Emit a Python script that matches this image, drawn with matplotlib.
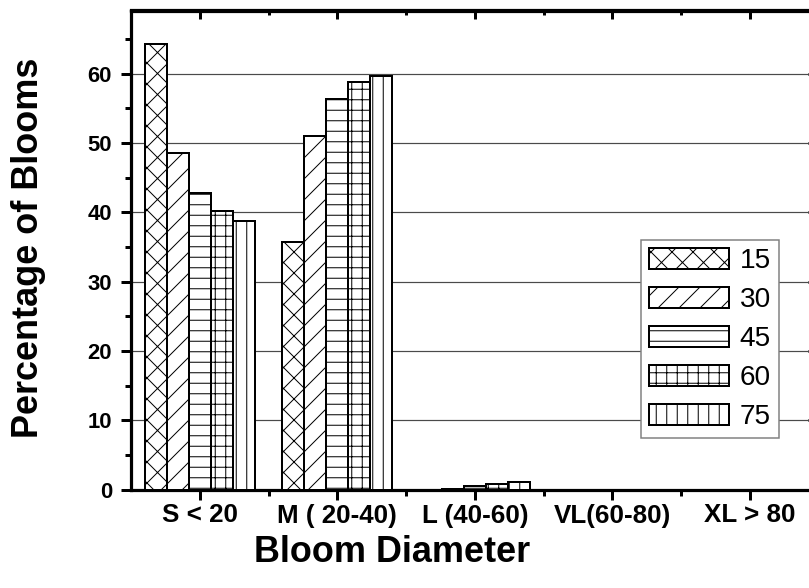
import numpy as np
import matplotlib
matplotlib.use("Agg")
import matplotlib.pyplot as plt
from matplotlib.ticker import MultipleLocator, FixedLocator

# bloom size classes and the percentage of blooms in each, per series
categories = ["S < 20", "M ( 20-40)", "L (40-60)", "VL(60-80)", "XL > 80"]
series_names = ["15", "30", "45", "60", "75"]
pct_15 = [64.2, 35.7, 0.0, 0.0, 0.0]
pct_30 = [48.6, 51.0, 0.1, 0.0, 0.0]
pct_45 = [42.8, 56.3, 0.5, 0.0, 0.0]
pct_60 = [40.2, 58.8, 0.8, 0.0, 0.0]
pct_75 = [38.8, 59.7, 1.1, 0.0, 0.0]
y_ticks = [0, 10, 20, 30, 40, 50, 60]

DPI = 126
def px(v):
    # pixel size -> points at this dpi
    return v * 72.0 / DPI

plt.rcParams['font.family'] = ['Liberation Sans', 'DejaVu Sans']
plt.rcParams['hatch.linewidth'] = px(1.0)
plt.rcParams['hatch.color'] = 'black'

fig = plt.figure(figsize=(809 / DPI, 588 / DPI), dpi=DPI)
W, H = 809.0, 588.0
ax = fig.add_axes([131 / W, 1 - 489.5 / H, 687.5 / W, 479 / H])

values = [pct_15, pct_30, pct_45, pct_60, pct_75]
hatches = ['xx', '//', '--', '++', '||']
x = np.arange(len(categories))
width = 0.16
for i, (vals, h, name) in enumerate(zip(values, hatches, series_names)):
    ax.bar(x + (i - 2) * width, vals, width, facecolor='white', edgecolor='black',
           linewidth=px(2.0), hatch=h, label=name, zorder=3)

ax.set_xlim(-0.5, 4.5)
ax.set_ylim(0, 69.1)

ax.set_xticks(x)
ax.set_xticklabels(categories, fontsize=px(26), fontweight='bold')
ax.xaxis.set_minor_locator(FixedLocator(x[:-1] + 0.5))
ax.set_yticks(y_ticks)
ax.set_yticklabels([str(t) for t in y_ticks], fontsize=px(22), fontweight='bold')
ax.yaxis.set_minor_locator(MultipleLocator(5))

ax.tick_params(which='major', direction='out', length=px(10), width=px(3))
ax.tick_params(which='minor', direction='out', length=px(6), width=px(3))
ax.tick_params(axis='x', pad=px(4))
ax.tick_params(axis='y', pad=px(9))

for s in ax.spines.values():
    s.set_linewidth(px(3.2))

# horizontal grid at the labelled values
for t in y_ticks[1:]:
    ax.axhline(t, color='#4a4a4a', linewidth=px(1.2), zorder=1)

# inward ticks on top and right frame
top = ax.secondary_xaxis('top')
top.set_xticks(x)
top.xaxis.set_minor_locator(FixedLocator(x[:-1] + 0.5))
top.tick_params(which='major', direction='in', length=px(9), width=px(3), labeltop=False)
top.tick_params(which='minor', direction='in', length=px(5), width=px(3))
top.spines['top'].set_linewidth(px(3.2))
right = ax.secondary_yaxis('right')
right.set_yticks(y_ticks)
right.yaxis.set_minor_locator(MultipleLocator(5))
right.tick_params(which='major', direction='in', length=px(11), width=px(3), labelright=False)
right.tick_params(which='minor', direction='in', length=px(6), width=px(3))

ax.set_ylabel("Percentage of Blooms", fontsize=px(36), fontweight='bold')
ax.yaxis.set_label_coords((46 - 131) / 687.5, (489.5 - 248) / 479)
ax.set_xlabel("Bloom Diameter", fontsize=px(36), fontweight='bold')
ax.xaxis.set_label_coords((392 - 131) / 687.5, (489.5 - 535) / 479)

leg = ax.legend(loc='upper left', bbox_to_anchor=(641 / W, 1 - 240 / H),
                bbox_transform=fig.transFigure, fontsize=px(28), frameon=True,
                fancybox=False, framealpha=1, edgecolor='#808080',
                borderaxespad=0, borderpad=0.3, handlelength=2.85, handleheight=0.75,
                handletextpad=0.38, labelspacing=0.46)
leg.get_frame().set_linewidth(px(1.5))
leg.set_zorder(5)

fig.savefig("out.png", dpi=DPI)
